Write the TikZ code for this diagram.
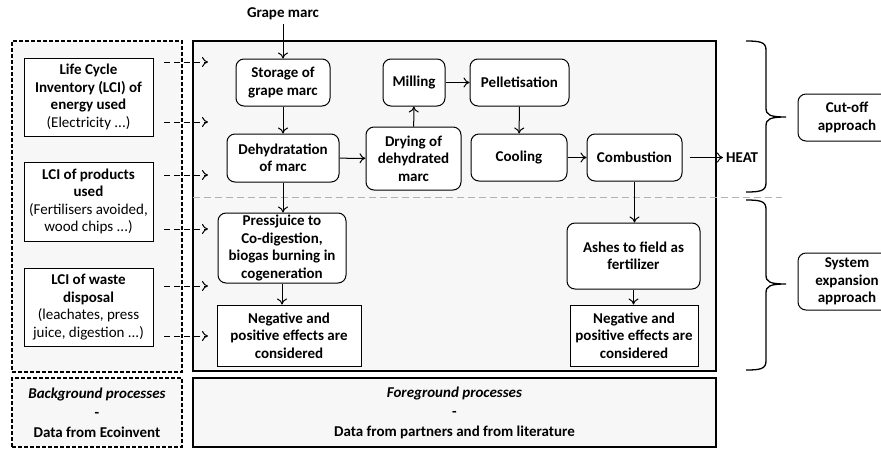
\documentclass[tikz,border=0pt]{standalone}
\usepackage{fontspec}
\setmainfont{Carlito}
\usetikzlibrary{arrows.meta}
\definecolor{bgfill}{HTML}{F7F7F7}
\begin{document}
\begin{tikzpicture}[x=1pt,y=-1pt,
  >={To[length=6pt,width=10pt]},
  txt/.style={font=\fontsize{15}{17.5}\selectfont\bfseries, align=center},
  proc/.style={txt, draw, rounded corners=8pt, fill=white, line width=1pt, inner sep=1pt},
  rbox/.style={txt, draw, fill=white, line width=1pt, inner sep=1pt},
  big/.style={draw, fill=bgfill, line width=1.2pt, inner sep=0pt},
  bigdash/.style={draw, fill=bgfill, line width=1.1pt, dash pattern=on 4pt off 2pt, inner sep=0pt},
  flow/.style={->, line width=1pt},
  dflow/.style={->, line width=1pt, dash pattern=on 6pt off 4pt},
  brace/.style={line width=1.3pt}]
\useasboundingbox (0,0) rectangle (881,448);

% big frames
\node[bigdash, minimum width=170pt, minimum height=331pt] (bgbox) at (97,206.5) {};
\node[big, minimum width=523pt, minimum height=330pt] (main) at (454.5,206) {};
\node[bigdash, minimum width=170pt, minimum height=69pt, txt, font=\fontsize{15}{19.5}\selectfont\bfseries] (bgproc) at (97,412.5)
  {\textit{Background processes}\\-\\Data from Ecoinvent};
\node[big, minimum width=523pt, minimum height=69pt, txt, font=\fontsize{15}{19.5}\selectfont\bfseries] (fgproc) at (454.5,412.5)
  {\textit{Foreground processes}\\-\\Data from partners and from literature};

% separator
\coordinate (sepL) at (193,197);
\coordinate (sepR) at (782,197);
\draw[gray!60, line width=0.8pt, dash pattern=on 7pt off 4pt] (sepL) -- (sepR);

% LCI boxes
\node[rbox, minimum width=129pt, minimum height=78pt] (lci1) at (88.5,97)
  {Life Cycle\\Inventory (LCI) of\\energy used\\\mdseries(Electricity ...)};
\node[rbox, minimum width=129pt, minimum height=79pt] (lci2) at (88.5,201.5)
  {LCI of products\\used\\\mdseries(Fertilisers avoided,\\\mdseries wood chips ...)};
\node[rbox, minimum width=129pt, minimum height=78pt] (lci3) at (88.5,307)
  {LCI of waste\\disposal\\\mdseries(leachates, press\\\mdseries juice, digestion ...)};

% process boxes
\node[txt] (grape) at (283,14) {Grape marc};
\node[proc, minimum width=94pt, minimum height=47pt] (storage) at (283,82.5) {Storage of\\grape marc};
\node[proc, minimum width=112pt, minimum height=48pt] (deh) at (283,158) {Dehydratation\\of marc};
\node[proc, minimum width=95pt, minimum height=63pt] (dry) at (413.5,158.5) {Drying of\\dehydrated\\marc};
\node[proc, minimum width=62pt, minimum height=47pt] (mill) at (414,82.5) {Milling};
\node[proc, minimum width=99pt, minimum height=47pt] (pellet) at (519.5,82.5) {Pelletisation};
\node[proc, minimum width=96pt, minimum height=47pt] (cool) at (519,157.5) {Cooling};
\node[proc, minimum width=95pt, minimum height=47pt] (comb) at (634.5,157.5) {Combustion};
\node[txt, anchor=west, inner sep=0pt] (heat) at (726,157.5) {HEAT};
\node[proc, minimum width=128pt, minimum height=70pt] (press) at (282,248)
  {Pressjuice to\\Co-digestion,\\biogas burning in\\cogeneration};
\node[rbox, minimum width=144pt, minimum height=61pt] (neg1) at (289,335.5)
  {Negative and\\positive effects are\\considered};
\node[proc, minimum width=133pt, minimum height=66pt] (ashes) at (633.5,256) {Ashes to field as\\fertilizer};
\node[rbox, minimum width=128pt, minimum height=61pt] (neg2) at (634,335.5)
  {Negative and\\positive effects are\\considered};

% approach boxes
\node[proc, minimum width=98pt, minimum height=47pt] (cutoff) at (847,117.5) {Cut-off\\approach};
\node[proc, minimum width=98pt, minimum height=57pt] (sysexp) at (847,281.5) {System\\expansion\\approach};

% flows
\draw[flow] (grape.south) -- (storage.north);
\draw[flow] (storage) -- (deh);
\draw[flow] (deh) -- (dry);
\draw[flow] (dry) -- (mill);
\draw[flow] (mill) -- (pellet);
\draw[flow] (pellet) -- (cool);
\draw[flow] (cool) -- (comb);
\draw[flow] ([xshift=7pt]comb.east) -- ([xshift=-3pt]heat.west);
\draw[flow] (deh.south) -- (deh.south |- press.north);
\draw[flow] (press.south) -- (press.south |- neg1.north);
\draw[flow] (comb.south) -- (comb.south |- ashes.north);
\draw[flow] (ashes.south) -- (ashes.south |- neg2.north);

% dashed inputs
\foreach \i/\y in {1/62,2/122,3/175,4/229,5/286,6/336}{
  \coordinate (ds\i) at (164,\y);
  \coordinate (de\i) at (208,\y);
  \draw[dflow] (ds\i) -- (de\i);
}

% braces
\draw[brace] (746,41) .. controls (760,41) and (766,42) .. (766,50) -- (766,108)
  .. controls (766,115) and (770,117) .. (786,117)
  .. controls (770,117) and (766,119) .. (766,126) -- (766,183)
  .. controls (766,191) and (760,192) .. (746,192);
\draw[brace] (746,200) .. controls (760,200) and (766,201) .. (766,209) -- (766,275)
  .. controls (766,282) and (770,284) .. (786,284)
  .. controls (770,284) and (766,286) .. (766,293) -- (766,361)
  .. controls (766,369) and (760,370) .. (746,370);
\end{tikzpicture}
\end{document}
